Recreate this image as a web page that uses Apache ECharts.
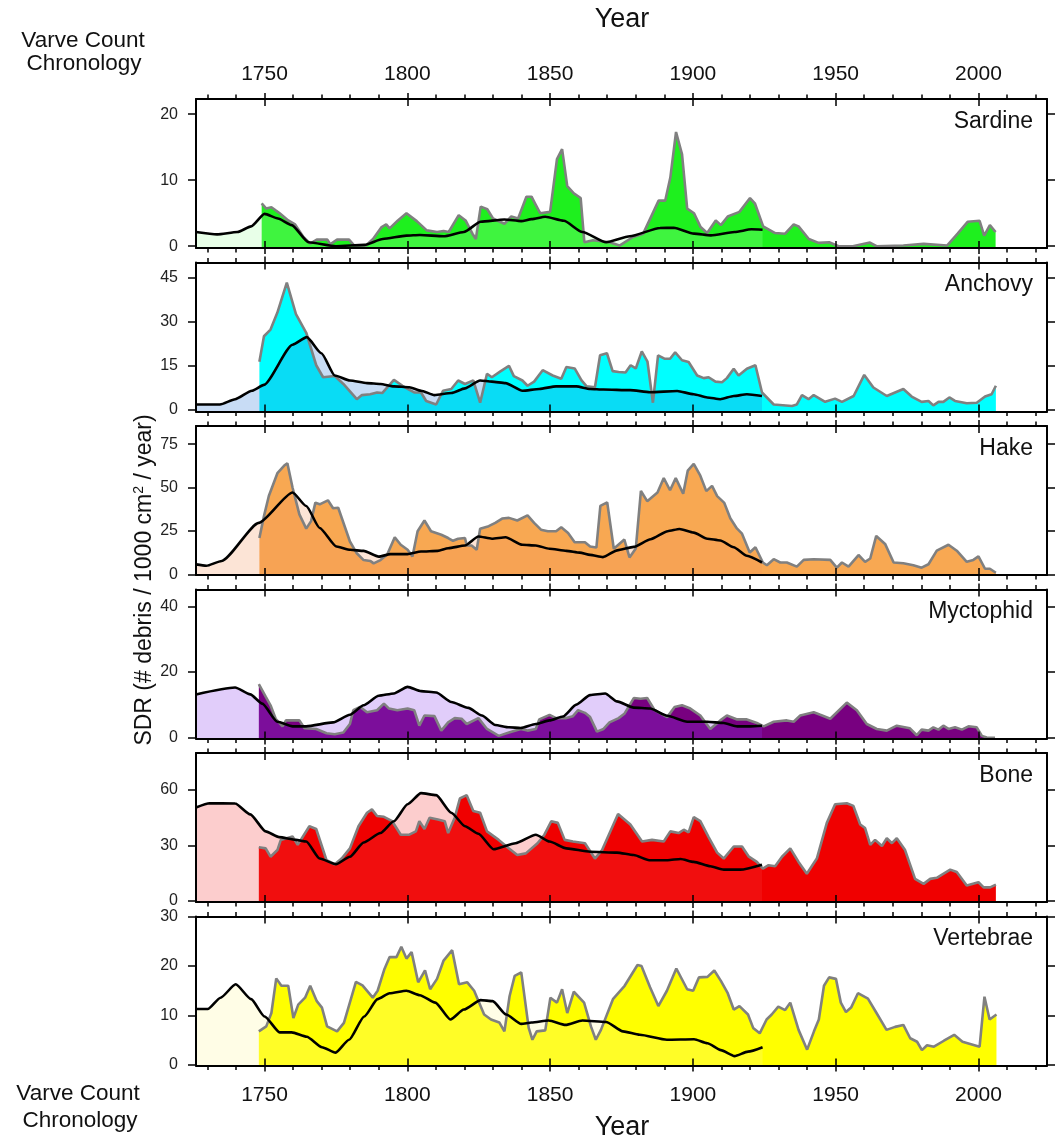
<!DOCTYPE html>
<html><head><meta charset="utf-8">
<script src="https://cdn.jsdelivr.net/npm/echarts@6/dist/echarts.min.js"></script>
<style>html,body{margin:0;padding:0;background:#fff}#c{width:1062px;height:1142px}</style>
</head><body><div id="c"></div>
<script>
// ---------------- DATA ----------------
const panelNames = ['Sardine','Anchovy','Hake','Myctophid','Bone','Vertebrae'];
const xRange = [1726, 2024];
const xMinorTicks = [1730,1740,1750,1760,1770,1780,1790,1800,1810,1820,1830,1840,1850,1860,1870,1880,1890,1900,1910,1920,1930,1940,1950,1960,1970,1980,1990,2000,2010,2020];
const xMajorTicks = [1750,1800,1850,1900,1950,2000];
const yTicks = [[0,10,20],[0,15,30,45],[0,25,50,75],[0,20,40],[0,30,60],[0,10,20,30]];
const yRanges = [[-0.27,22.3],[-0.7,50.2],[-0.3,85.5],[-0.2,45.1],[-0.6,80],[-0.1,30]];

const sardineData = [[1749,6.5],[1750.6,5.7],[1752.4,5.9],[1754,5.4],[1755.3,5.0],[1758.3,3.9],[1760.7,3.3],[1763.6,1.4],[1766,0.4],[1768.3,1.0],[1772,1.0],[1773,0.3],[1775.4,1.0],[1779.6,1.0],[1781.4,0.1],[1785.5,0.1],[1788,1.1],[1791,2.9],[1792.6,3.3],[1793.8,2.7],[1796.7,3.9],[1799.7,5.0],[1803.3,3.8],[1806.8,2.4],[1810.4,2.15],[1812.7,2.3],[1814.5,2.15],[1818,4.7],[1820.4,3.9],[1822.8,1.9],[1824,1.1],[1825.7,6.0],[1828,5.6],[1830,4.2],[1834,3.4],[1836.4,4.5],[1838.8,4.2],[1841.7,7.5],[1843.5,7.5],[1844.7,6.5],[1846.5,5.0],[1850,5.2],[1852.4,13.2],[1854.2,14.7],[1856,9.1],[1858.3,8.0],[1860.7,7.3],[1862,0.6],[1865,0.9],[1870.8,0.6],[1874.3,0.1],[1879,1.4],[1882.6,1.9],[1888,6.9],[1890.3,6.9],[1892.1,10.4],[1894.1,17.3],[1896.2,13.9],[1898,5.7],[1900.4,5.0],[1902.7,2.9],[1905,2.0],[1908,3.9],[1909.8,3.2],[1912.2,4.5],[1916.3,5.2],[1920,7.3],[1921.7,6.5],[1924.6,3.0],[1928.8,2.0],[1932.3,1.9],[1935.3,3.3],[1937,3.0],[1940.6,1.1],[1944,0.5],[1947.7,0.6],[1951,0],[1956,0],[1962,0.56],[1964.3,0],[1973.7,0.1],[1980.8,0.36],[1989,0.1],[1992.7,1.9],[1996.2,3.7],[2000.4,3.85],[2002,1.6],[2004,3.2],[2006,2.15]];
const sardineSmooth = [[1726,2.15],[1733.4,1.8],[1740.5,2.15],[1745.3,3.0],[1750,4.9],[1754.7,4.2],[1759.5,3.2],[1765.4,0.6],[1775,0],[1785,0.2],[1791.4,1.1],[1799.7,1.6],[1804.4,1.7],[1812.7,1.5],[1819.8,2.15],[1825.7,3.7],[1834,4.05],[1839.9,3.8],[1843.5,4.1],[1848.3,4.46],[1854.8,3.85],[1861.3,2.15],[1869.6,0.6],[1877.9,1.5],[1888.5,2.77],[1893.3,2.8],[1900.4,1.9],[1906.3,1.64],[1914.6,2.15],[1920.5,2.56],[1924.4,2.5]];

const anchovyData = [[1748.2,16.3],[1749.8,25],[1752.1,27.3],[1754.5,33.1],[1757.8,43.3],[1761,32.6],[1764.6,26.2],[1768.1,15.1],[1770.5,11.0],[1774.6,11.4],[1777.6,8.7],[1782.3,3.5],[1784.1,4.9],[1787,5.2],[1789.4,5.8],[1791.2,5.6],[1795.3,10.1],[1798.3,8.1],[1800.1,7.0],[1802.4,5.8],[1804.8,5.8],[1806.6,2.9],[1810.1,1.7],[1812.5,6.4],[1815.4,7.0],[1817.8,9.9],[1820.2,8.7],[1823.1,9.9],[1825.5,2.3],[1827.9,12.2],[1829.6,11.0],[1832.6,13.0],[1835.6,14.9],[1837.3,11.4],[1840.3,9.9],[1842.1,8.1],[1844.4,9.5],[1847.4,13.4],[1850.9,11.6],[1853.9,10.5],[1855.7,14.5],[1858.6,14.0],[1861,9.9],[1862.8,7.9],[1865.7,7.6],[1867.5,18.5],[1869.9,19.2],[1871.9,13.1],[1874,12.8],[1876.4,12.6],[1878.2,15.1],[1880,14.0],[1882.1,19.8],[1884.1,16.3],[1886,2.3],[1887.8,18.5],[1890.2,17.3],[1892,17.3],[1893.8,19.5],[1896.2,16.8],[1898.5,16.2],[1901.5,11.6],[1903.8,10.7],[1905.5,11.0],[1907.9,9.5],[1910.2,9.3],[1911.9,10.7],[1914.3,13.9],[1916,11.6],[1918.9,13.9],[1921.9,15.1],[1922.4,14.8],[1924.2,5.8],[1928.3,1.7],[1934.7,1.2],[1936.4,1.7],[1938.2,4.9],[1940.5,3.5],[1942.3,4.9],[1946.3,2.6],[1949.8,3.7],[1952.2,2.6],[1956.3,4.6],[1960,11.8],[1963.2,7.5],[1967.9,4.6],[1973.7,7.0],[1976.6,4.4],[1980.1,2.6],[1982.5,2.9],[1984.2,1.4],[1986,2.6],[1987.7,2.6],[1989.8,4.1],[1991.8,2.9],[1995.9,2.1],[1999.4,2.3],[2002.3,4.4],[2004.6,5.2],[2006.1,8.1]];
const anchovySmooth = [[1726,1.7],[1734.4,1.7],[1739.7,3.5],[1745.6,6.4],[1749.8,8.4],[1759.8,22.1],[1764.8,24.7],[1769.9,19.2],[1774.6,11.6],[1779.9,9.9],[1785.9,9.0],[1790.6,8.7],[1795.3,7.9],[1800.7,7.6],[1804.8,6.4],[1809.5,4.9],[1815.4,5.6],[1820.2,7.2],[1825.5,9.9],[1829.6,9.5],[1834.4,9.0],[1840.3,6.4],[1846.2,7.0],[1852.1,7.9],[1859.2,7.9],[1864,7.0],[1868.7,6.8],[1878,6.6],[1885,5.9],[1894.5,6.3],[1900.3,5.2],[1905,4.1],[1909.6,3.5],[1914.3,4.6],[1918.9,5.2],[1924.2,4.6]];

const hakeData = [[1748.2,21],[1749.8,33.6],[1751.5,45.2],[1754.5,58.3],[1756.9,62.7],[1758,64.1],[1759.8,50.1],[1762.2,34.6],[1764.6,26.4],[1766.3,30.7],[1767.8,41.4],[1769.3,40.4],[1772.2,42.7],[1774,38.1],[1775.8,38.4],[1779.9,19.0],[1782.3,12.2],[1784.7,8.3],[1787,7.8],[1788.2,6.4],[1790.6,8.3],[1793,11.7],[1795.6,21.4],[1797.7,17.1],[1800.1,14.2],[1801.8,10.3],[1803.6,24.9],[1806,31.1],[1808.3,24.9],[1811.9,22.9],[1814.3,21],[1816,19.4],[1817.8,20.6],[1820.2,21],[1820.8,16.7],[1822.5,16.7],[1824.3,14.2],[1825.5,26.4],[1828.5,27.8],[1830.8,29.7],[1833.2,32.2],[1835.6,32.6],[1838.5,31.1],[1842.1,34],[1844.4,29.7],[1846.8,25.8],[1849.2,24.9],[1852.1,24.9],[1853.9,27.2],[1856.3,23.9],[1858.6,18.6],[1862.2,18.6],[1864,16.1],[1866.2,15.5],[1867.6,39.5],[1870,41.5],[1872.3,14.8],[1876,20.1],[1877.8,9.8],[1880,14.9],[1881.8,48.1],[1884,42.2],[1887.6,47.2],[1889.8,55.5],[1892,48.5],[1894,55.5],[1896.6,46.5],[1898.2,59.8],[1900.3,63.7],[1902.6,56.9],[1904.7,48],[1906.7,51],[1908.5,45.1],[1911,41.2],[1913.1,32.4],[1915.4,26.5],[1917.2,23.5],[1919.9,12.7],[1921.9,15.7],[1924.5,6.9],[1925.9,5.3],[1928.3,8.8],[1930.6,6.9],[1932.9,6.9],[1936.4,4.5],[1938.8,8.4],[1942.3,8.8],[1948.1,8.4],[1950.4,3.9],[1952.2,6.9],[1954.5,4.5],[1958,11.2],[1960.3,7.3],[1962.1,9.2],[1964.2,22.2],[1967.3,17.6],[1970.3,6.9],[1973.7,6.5],[1977.2,5.3],[1980.1,3.9],[1982.5,5.9],[1985.4,13.7],[1989.5,17.1],[1992.4,13.7],[1995.9,7.3],[1998.2,8.4],[2000,10.4],[2002.3,3.3],[2004,3.3],[2006.1,1.0]];
const hakeSmooth = [[1726,5.8],[1729.6,5.0],[1735,7.8],[1748,29.7],[1759.8,47.2],[1764.6,39.4],[1769.3,26.8],[1775.2,16.1],[1780,14.2],[1784.7,13.6],[1790,10.3],[1794.1,11.7],[1800.1,11.7],[1804.8,13.2],[1810.7,13.6],[1814.3,15.1],[1820.2,16.7],[1824.9,21.9],[1829.6,20.6],[1834.4,21.4],[1840.3,17.1],[1845,16.7],[1849.8,14.8],[1855.7,13.6],[1860.4,12.6],[1864,11.3],[1868.5,10.0],[1873.5,13.9],[1879.3,15.9],[1885.2,20.3],[1891.2,24.9],[1895.3,26.2],[1900.3,24.1],[1905,20.6],[1909.6,19.6],[1914.3,15.7],[1918.9,10.8],[1924.2,6.9]];

const myctophidData = [[1748,16.3],[1750.4,12.5],[1752.1,9.9],[1753.9,5.8],[1756.3,3.5],[1757.5,5.3],[1762.2,5.3],[1764,2.9],[1768.1,2.7],[1771.7,1.4],[1774.6,1.1],[1777.6,1.6],[1779.9,4.2],[1781.1,8.4],[1783.5,9.4],[1785.9,7.8],[1789.4,8.4],[1791.8,10.4],[1793.6,8.9],[1796.5,8.4],[1800.1,8.9],[1802.4,8.4],[1804.2,3.7],[1806,6.8],[1809.5,6.6],[1811.9,2.2],[1814.3,4.7],[1816.6,6.0],[1819,5.8],[1820.8,4.2],[1824.9,6.0],[1827.9,2.7],[1832,0.6],[1835.6,1.6],[1839.7,2.7],[1842.1,2.2],[1845,2.7],[1846.2,5.6],[1849.8,7.0],[1852.1,6.0],[1855.7,6.0],[1858,6.6],[1859.8,8.4],[1862.2,7.6],[1864,6.3],[1866.4,1.9],[1868.7,2.7],[1870.8,4.7],[1874,6.0],[1876,7.3],[1879.3,12.1],[1881.7,11.9],[1884,12.1],[1886.6,8.4],[1891,6.3],[1893.6,9.4],[1896.2,9.9],[1899.1,8.9],[1902.6,6.8],[1906.1,2.7],[1909.6,5.3],[1911.9,6.8],[1915.5,5.6],[1918.9,5.6],[1922.4,4.5],[1924.8,3.5],[1928.3,4.9],[1932.9,5.3],[1935.3,4.9],[1937.6,6.8],[1942.3,7.8],[1944.6,7.0],[1948.1,5.8],[1953.9,10.7],[1957.4,8.4],[1960.9,4.2],[1964.4,2.7],[1967.9,2.2],[1971.4,3.7],[1976,2.9],[1978.4,0.8],[1980.1,2.5],[1982.5,2.2],[1984.2,3.2],[1986,2.5],[1987.7,3.7],[1989.5,2.7],[1991.8,3.2],[1994.2,2.5],[1996.5,3.5],[1999.4,3.2],[2001.2,0.6],[2002.9,0.1],[2005.8,0]];
const myctophidSmooth = [[1726,13.2],[1739.7,15.3],[1745,13.2],[1749.2,10.4],[1754.5,4.9],[1759.8,3.5],[1764.6,3.5],[1774,4.7],[1779.9,7.0],[1784.7,9.9],[1790,12.8],[1795.3,13.5],[1800.1,15.5],[1804.8,14.2],[1810.1,13.8],[1815.4,10.9],[1821.4,9.1],[1826.1,6.8],[1830.8,3.9],[1835.6,3.2],[1839.7,3.0],[1845,4.2],[1849.8,5.3],[1854.5,6.5],[1859.2,10.1],[1864,13.0],[1869.3,13.5],[1873.4,11.1],[1879.3,9.2],[1885,8.9],[1891,6.7],[1898,4.9],[1905,4.9],[1910.8,4.5],[1915.5,3.5],[1920.1,3.5],[1924.2,3.7]];

const boneData = [[1748,29],[1750.4,28.4],[1752.1,23.9],[1754.5,27.5],[1755.7,33.0],[1759.8,34.9],[1761.6,30.3],[1765.7,40.4],[1768.1,38.9],[1771.7,22.0],[1774.6,19.8],[1777,22.9],[1779.9,28.4],[1782.9,40.4],[1785.9,47.7],[1787.6,49.5],[1789.4,45.9],[1791.8,45.5],[1794.7,43.1],[1797.7,35.8],[1800.7,35.8],[1803,37.6],[1804.2,43.1],[1806,38.9],[1807.8,45.0],[1810.7,44.0],[1813.1,43.1],[1814.3,36.7],[1816.6,45.0],[1818.4,55.4],[1820.8,57.2],[1823.1,48.6],[1825.5,47.7],[1827.9,37.6],[1832,33.0],[1835.6,28.4],[1838.5,24.8],[1841.5,25.7],[1845.6,31.2],[1848,35.8],[1850.4,43.1],[1852.7,42.2],[1855.1,33.0],[1858,32.1],[1862.2,31.2],[1865.7,22.9],[1868.2,27.5],[1873.8,47.0],[1878.1,41.3],[1882.2,32.1],[1885.7,33.0],[1889.8,32.1],[1892.1,37.6],[1895,36.7],[1896.8,38.5],[1898.5,37.1],[1900.3,45.3],[1902.6,43.1],[1905.5,34.5],[1908.5,26.1],[1910.8,22.9],[1914.3,29.4],[1917.2,29.4],[1919.6,23.9],[1922.4,21.1],[1924.5,17.4],[1926.5,19.3],[1928.8,18.7],[1931.2,23.9],[1934.1,28.4],[1937,21.1],[1939.9,14.7],[1943.4,22.9],[1946.9,42.2],[1949.8,52.3],[1953.9,52.8],[1956.2,51.4],[1958.6,41.3],[1960.3,39.4],[1962.1,30.3],[1963.8,33.0],[1966.2,29.7],[1967.9,33.9],[1969.7,31.2],[1971.4,33.9],[1974.3,27.5],[1977.8,11.9],[1980.8,9.2],[1983.1,11.9],[1985.4,12.5],[1990.1,16.9],[1992.4,15.6],[1995.9,8.3],[2000,10.1],[2001.8,7.3],[2004.1,7.3],[2006.1,8.8]];
const boneSmooth = [[1726,50.5],[1730.8,52.8],[1739.7,52.7],[1745,46.8],[1750.4,37.6],[1755.1,34.5],[1761,33.0],[1764.6,32.1],[1769.3,22.9],[1775,19.8],[1779.9,23.9],[1784.7,31.6],[1790.6,36.7],[1795.3,43.1],[1800.1,52.3],[1804.8,58.3],[1810.1,57.2],[1815.4,47.7],[1820.2,40.4],[1824.9,36.3],[1830.2,27.9],[1837.9,31.2],[1845,35.8],[1849.8,32.1],[1855.7,28.4],[1864,26.6],[1873.4,26.1],[1879.3,24.8],[1884.7,22.0],[1891.2,22.0],[1895.7,22.7],[1900.3,21.1],[1906.1,18.7],[1910.8,16.9],[1916.6,16.9],[1924.2,19.6]];

const vertebraeData = [[1748,6.8],[1750.6,7.8],[1752.4,10.5],[1754.1,17.5],[1755.9,16.0],[1758.3,16.0],[1760.1,9.5],[1761.8,12.2],[1764.2,13.6],[1766,16.0],[1768.3,12.9],[1770.1,11.6],[1771.9,7.8],[1775.4,6.8],[1777.8,8.5],[1782,16.8],[1784.3,16.1],[1787.9,13.6],[1789.6,15.0],[1792,19.4],[1793.8,21.8],[1796.2,21.8],[1797.9,23.9],[1799.7,21.5],[1801.5,22.8],[1803.8,16.7],[1806.2,19.1],[1808,15.3],[1810.4,17.4],[1812.7,21.1],[1815.7,23.2],[1818.1,16.3],[1821,16.7],[1823.4,15.0],[1826.9,10.2],[1829.3,9.2],[1832.2,8.6],[1834,6.8],[1835.8,13.9],[1837.6,18.0],[1839.9,18.7],[1842.5,7.5],[1843.8,5.1],[1845.3,6.8],[1848.3,7.0],[1850.1,13.6],[1852.4,12.6],[1854.2,15.3],[1856,10.5],[1858.3,14.8],[1861.9,12.6],[1864.3,7.8],[1866,5.1],[1867.8,7.1],[1872,13.3],[1876.1,16.0],[1880.6,20.2],[1882,20.0],[1885,15.7],[1887.9,11.9],[1890.9,15.0],[1894.2,19.5],[1898,15.3],[1900.1,15.0],[1902.1,17.7],[1905.1,17.8],[1907.5,19.1],[1909.8,17.0],[1912.2,14.5],[1914.3,11.2],[1916.3,11.9],[1919.3,10.2],[1921.1,7.5],[1923.4,6.4],[1925.8,9.2],[1927.6,10.2],[1929.9,11.8],[1932.3,11.1],[1934.1,12.6],[1937,7.1],[1940,3.1],[1942.4,6.8],[1944.1,9.2],[1945.9,16.0],[1947.7,17.7],[1950.1,17.4],[1951.8,12.6],[1953.6,10.7],[1955.4,11.6],[1957.8,14.5],[1961.3,13.4],[1964.3,10.5],[1967.8,7.1],[1970.8,7.7],[1973.7,8.1],[1976.1,5.4],[1978.5,4.7],[1980.2,3.0],[1982,4.0],[1984.4,3.7],[1987.9,4.9],[1991.5,6.1],[1994.4,4.7],[1997.4,4.2],[2000.4,3.7],[2002.1,13.8],[2003.9,9.2],[2006.3,10.2]];
const vertebraeSmooth = [[1726,11.3],[1730.1,11.3],[1734.6,13.6],[1739.9,16.3],[1745.3,13.3],[1750,9.8],[1755.3,6.6],[1759.5,6.6],[1764.8,5.7],[1770.1,3.6],[1774.9,2.5],[1779.6,5.1],[1784.9,9.8],[1789.6,13.3],[1793.8,14.5],[1799.7,15.0],[1804.4,14.1],[1809.8,12.6],[1815.1,9.2],[1819.8,11.2],[1825.7,13.1],[1829.9,12.9],[1834.6,10.2],[1839.9,8.3],[1843.5,8.6],[1849.5,9.0],[1855.4,8.1],[1861.3,9.0],[1869.6,8.7],[1875.5,6.8],[1881.4,6.1],[1890.9,5.1],[1900.4,5.2],[1905.1,4.4],[1909.8,3.0],[1914.6,1.8],[1919.3,2.7],[1924.4,3.6]];

const rawSeries = [sardineData, anchovyData, hakeData, myctophidData, boneData, vertebraeData];
const smoothSeries = [sardineSmooth, anchovySmooth, hakeSmooth, myctophidSmooth, boneSmooth, vertebraeSmooth];

// ---------------- STYLE ----------------
const mainColors = ['#1ef01e','#00ffff','#f8a852','#780080','#f00000','#ffff00'];
const overlayColors = ['rgba(163,255,163,0.25)','rgba(35,115,215,0.25)','rgba(243,147,91,0.25)','rgba(135,55,235,0.25)','rgba(243,55,55,0.25)','rgba(255,247,155,0.25)'];
const FONT = "'Liberation Sans', Arial, Helvetica, sans-serif";
const tops = [99, 262.5, 426, 589.5, 753, 916.5];
const H = 149, LEFT = 196, WIDTH = 851;
const plainNum = v => String(v);

const grids = [], xAxes = [], yAxes = [], series = [], graphics = [];
const blackLine = {color:'#000', width:2};
const tickLine = {color:'#000', width:1.5};

panelNames.forEach((name, i) => {
  grids.push({left: LEFT, width: WIDTH, top: tops[i], height: H, containLabel: false, outerBoundsMode: 'none', show: false});
  const base = {type:'value', gridIndex:i, min:xRange[0], max:xRange[1], splitLine:{show:false}, z:10};
  xAxes.push(Object.assign({}, base, {position:'bottom',
    axisLine:{show:true, onZero:false, lineStyle:blackLine},
    axisTick:{show:true, customValues:xMinorTicks, length:4.5, lineStyle:tickLine},
    axisLabel:{show: i===5, customValues:xMajorTicks, formatter:plainNum, fontSize:21, color:'#111', margin:19, fontFamily:FONT}}));
  xAxes.push(Object.assign({}, base, {position:'bottom', offset:-7,
    axisLine:{show:false, onZero:false},
    axisTick:{show:true, customValues:xMajorTicks, length:13, lineStyle:tickLine},
    axisLabel:{show:false}}));
  xAxes.push(Object.assign({}, base, {position:'top',
    axisLine:{show:true, onZero:false, lineStyle:blackLine},
    axisTick:{show:true, customValues:xMinorTicks, length:4.5, lineStyle:tickLine},
    axisLabel:{show: i===0, customValues:xMajorTicks, formatter:plainNum, fontSize:21, color:'#111', margin:14, fontFamily:FONT}}));
  xAxes.push(Object.assign({}, base, {position:'top', offset:-7,
    axisLine:{show:false, onZero:false},
    axisTick:{show:true, customValues:xMajorTicks, length:13, lineStyle:tickLine},
    axisLabel:{show:false}}));
  const ybase = {type:'value', gridIndex:i, min:yRanges[i][0], max:yRanges[i][1], splitLine:{show:false}, z:10};
  yAxes.push(Object.assign({}, ybase, {position:'left',
    axisLine:{show:true, onZero:false, lineStyle:blackLine},
    axisTick:{show:true, customValues:yTicks[i], length:8, lineStyle:tickLine},
    axisLabel:{show:true, customValues:yTicks[i], formatter:plainNum, fontSize:16, color:'#222', margin:18, fontFamily:FONT}}));
  yAxes.push(Object.assign({}, ybase, {position:'right',
    axisLine:{show:true, onZero:false, lineStyle:blackLine},
    axisTick:{show:true, customValues:yTicks[i], length:8, lineStyle:tickLine},
    axisLabel:{show:false}}));

  series.push({type:'line', name:name, xAxisIndex:4*i, yAxisIndex:2*i, data:rawSeries[i],
    symbol:'none', silent:true,
    lineStyle:{color:'#808080', width:2.6},
    areaStyle:{color:mainColors[i], opacity:1, origin:'start'}});
  series.push({type:'line', name:name+' smooth', xAxisIndex:4*i, yAxisIndex:2*i, data:smoothSeries[i],
    symbol:'none', silent:true, smooth:0.2, smoothMonotone:'x',
    lineStyle:{color:'#000', width:2.6},
    areaStyle:{color:overlayColors[i], opacity:1, origin:'start'}});

  graphics.push({type:'text', x:1033, y:tops[i]+22.5, z:20,
    style:{text:name, font:'23px '+FONT, fill:'#111', align:'right', verticalAlign:'middle'}});
});

graphics.push({type:'text', x:622, y:20, style:{text:'Year', font:'27px '+FONT, fill:'#111', align:'center', verticalAlign:'middle'}});
graphics.push({type:'text', x:622, y:1128, style:{text:'Year', font:'27px '+FONT, fill:'#111', align:'center', verticalAlign:'middle'}});
graphics.push({type:'text', x:83, y:40.5, style:{text:'Varve Count', font:'22.5px '+FONT, fill:'#111', align:'center', verticalAlign:'middle'}});
graphics.push({type:'text', x:84, y:64, style:{text:'Chronology', font:'22.5px '+FONT, fill:'#111', align:'center', verticalAlign:'middle'}});
graphics.push({type:'text', x:78, y:1094, style:{text:'Varve Count', font:'22.5px '+FONT, fill:'#111', align:'center', verticalAlign:'middle'}});
graphics.push({type:'text', x:80, y:1120.5, style:{text:'Chronology', font:'22.5px '+FONT, fill:'#111', align:'center', verticalAlign:'middle'}});
graphics.push({type:'text', x:145, y:580, rotation:Math.PI/2,
  style:{text:'{a|SDR (# debris / 1000 cm}{s|2}{a| / year)}', align:'center', verticalAlign:'middle', fill:'#111',
    rich:{a:{fontSize:23, fontFamily:FONT, lineHeight:26, fill:'#111'}, s:{fontSize:14, fontFamily:FONT, lineHeight:26, verticalAlign:'top', fill:'#111'}}}});

const chart = echarts.init(document.getElementById('c'), null, {renderer:'canvas'});
chart.setOption({
  animation:false,
  backgroundColor:'#fff',
  grid:grids, xAxis:xAxes, yAxis:yAxes, series:series, graphic:graphics
});
</script></body></html>
